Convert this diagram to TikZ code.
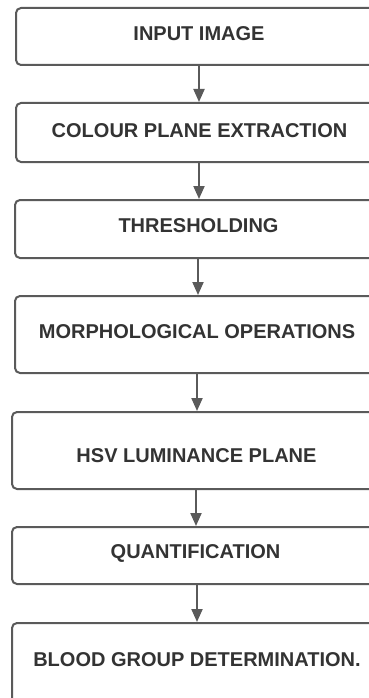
\documentclass[tikz,border=0pt]{standalone}
\usepackage{fontspec}
\setmainfont{Liberation Sans}
\usetikzlibrary{arrows.meta}
\definecolor{edge}{HTML}{5A5A5A}
\definecolor{ink}{HTML}{333333}
\tikzset{
  box/.style={draw=edge, line width=2pt, rounded corners=5pt, fill=white, rectangle, inner sep=0pt},
  txt/.style={text=ink, font=\fontsize{20}{24}\selectfont\bfseries, inner sep=0pt},
  arr/.style={draw=edge, line width=2pt, -{Triangle[length=13pt,width=11pt]}}
}
\begin{document}
\begin{tikzpicture}[x=1pt,y=-1pt]
\clip (0,0) rectangle (369,698);
\fill[white] (0,0) rectangle (369,698);
\node[box, minimum width=364pt, minimum height=57pt] (b1) at (198,36.5) {};
\node[box, minimum width=364pt, minimum height=59pt] (b2) at (198,132.5) {};
\node[box, minimum width=365pt, minimum height=58pt] (b3) at (197.5,229) {};
\node[box, minimum width=365pt, minimum height=77pt] (b4) at (197.5,334.5) {};
\node[box, minimum width=368pt, minimum height=77pt] (b5) at (196,450.5) {};
\node[box, minimum width=368pt, minimum height=57pt] (b6) at (196,555.5) {};
\node[box, minimum width=368pt, minimum height=90pt] (b7) at (196,668) {};
\node[txt] (t1) at (199,34) {INPUT IMAGE};
\node[txt] (t2) at (199.5,131) {COLOUR PLANE EXTRACTION};
\node[txt] (t3) at (198.5,226) {THRESHOLDING};
\node[txt] (t4) at (197,332) {MORPHOLOGICAL OPERATIONS};
\node[txt] (t5) at (196.5,456) {HSV LUMINANCE PLANE};
\node[txt] (t6) at (195.5,553) {QUANTIFICATION};
\node[txt] (t7) at (197,660) {BLOOD GROUP DETERMINATION.};
\draw[arr] ([xshift=1pt]b1.south) -- ([xshift=1pt]b1.south |- b2.north);
\draw[arr] ([xshift=1pt]b2.south) -- ([xshift=1pt]b2.south |- b3.north);
\draw[arr] ([xshift=0.5pt]b3.south) -- ([xshift=0.5pt]b3.south |- b4.north);
\draw[arr] ([xshift=-0.5pt]b4.south) -- ([xshift=-0.5pt]b4.south |- b5.north);
\draw[arr] (b5.south) -- (b5.south |- b6.north);
\draw[arr] ([xshift=1pt]b6.south) -- ([xshift=1pt]b6.south |- b7.north);
\end{tikzpicture}
\end{document}
